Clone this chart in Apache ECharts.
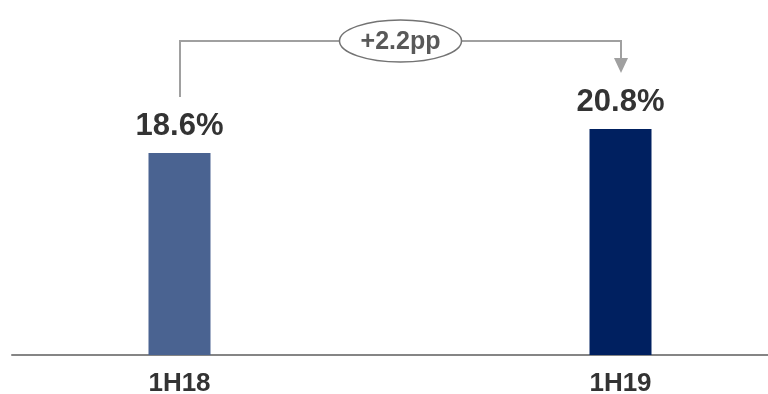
<!DOCTYPE html>
<html>
<head>
<meta charset="utf-8">
<script src="https://cdn.jsdelivr.net/npm/echarts@6/dist/echarts.min.js"></script>
<style>
  html, body { margin: 0; padding: 0; background: #ffffff; }
  #chart { width: 768px; height: 394px; }
</style>
</head>
<body>
<div id="chart"></div>
<script>
// Periods and their ratios (%)
const categories = ['1H18', '1H19'];
const values = [18.6, 20.8];
const barColors = ['#4A6391', '#002060'];
const changeLabel = '+2.2pp';

const FONT = '"Liberation Sans", Arial, Helvetica, sans-serif';

const chart = echarts.init(document.getElementById('chart'), null, { renderer: 'canvas' });

const option = {
  animation: false,
  grid: [
    // bars
    { left: -41, width: 882, top: 29, bottom: 39, containLabel: false, outerBoundsMode: 'none' },
    // baseline only
    { left: 12, right: 0, top: 29, bottom: 39, containLabel: false, outerBoundsMode: 'none' }
  ],
  xAxis: [
    {
      type: 'category',
      gridIndex: 0,
      data: categories,
      axisLine: { show: false },
      axisTick: { show: false },
      axisLabel: {
        margin: 16,
        fontFamily: FONT,
        fontSize: 26,
        fontWeight: 'bold',
        color: '#333333'
      }
    },
    {
      type: 'category',
      gridIndex: 1,
      data: [''],
      axisLine: { show: true, lineStyle: { color: '#858585', width: 2 } },
      axisTick: { show: false },
      axisLabel: { show: false }
    }
  ],
  yAxis: [
    { type: 'value', gridIndex: 0, min: 0, max: 30, show: false },
    { type: 'value', gridIndex: 1, min: 0, max: 30, show: false }
  ],
  series: [
    {
      type: 'bar',
      xAxisIndex: 0,
      yAxisIndex: 0,
      barWidth: 62,
      data: values.map((v, i) => ({ value: v, itemStyle: { color: barColors[i] } })),
      label: {
        show: true,
        position: 'top',
        distance: 11,
        formatter: p => p.value.toFixed(1) + '%',
        fontFamily: FONT,
        fontSize: 31,
        fontWeight: 'bold',
        color: '#333333'
      }
    }
  ]
};

chart.setOption(option);

// Change bracket: from the first bar up, across, and down with an arrow to the second bar
function drawBracket() {
  const p0 = chart.convertToPixel({ xAxisIndex: 0, yAxisIndex: 0 }, [categories[0], values[0]]);
  const p1 = chart.convertToPixel({ xAxisIndex: 0, yAxisIndex: 0 }, [categories[1], values[1]]);
  const x0 = Math.round(p0[0]);
  const x1 = Math.round(p1[0]);
  const topY = 41;
  const leftBottom = p0[1] - 56;
  const arrowTip = p1[1] - 56;
  const arrowLen = 15;
  const arrowHalf = 7;
  const midX = (x0 + x1) / 2;
  const lineColor = '#a0a0a0';

  chart.setOption({
    graphic: [
      {
        type: 'polyline',
        silent: true,
        shape: { points: [[x0, leftBottom], [x0, topY], [x1, topY], [x1, arrowTip - arrowLen]] },
        style: { stroke: lineColor, lineWidth: 2, fill: null }
      },
      {
        type: 'polygon',
        silent: true,
        shape: { points: [[x1 - arrowHalf, arrowTip - arrowLen], [x1 + arrowHalf, arrowTip - arrowLen], [x1, arrowTip]] },
        style: { fill: lineColor }
      },
      {
        type: 'ellipse',
        silent: true,
        shape: { cx: midX, cy: topY, rx: 61, ry: 21 },
        style: { fill: '#ffffff', stroke: '#737373', lineWidth: 1.5 }
      },
      {
        type: 'text',
        silent: true,
        x: midX,
        y: topY + 1,
        style: {
          text: changeLabel,
          fontFamily: FONT,
          fontSize: 25,
          fontWeight: 'bold',
          fill: '#595959',
          align: 'center',
          verticalAlign: 'middle'
        }
      }
    ]
  });
}

drawBracket();
</script>
</body>
</html>
